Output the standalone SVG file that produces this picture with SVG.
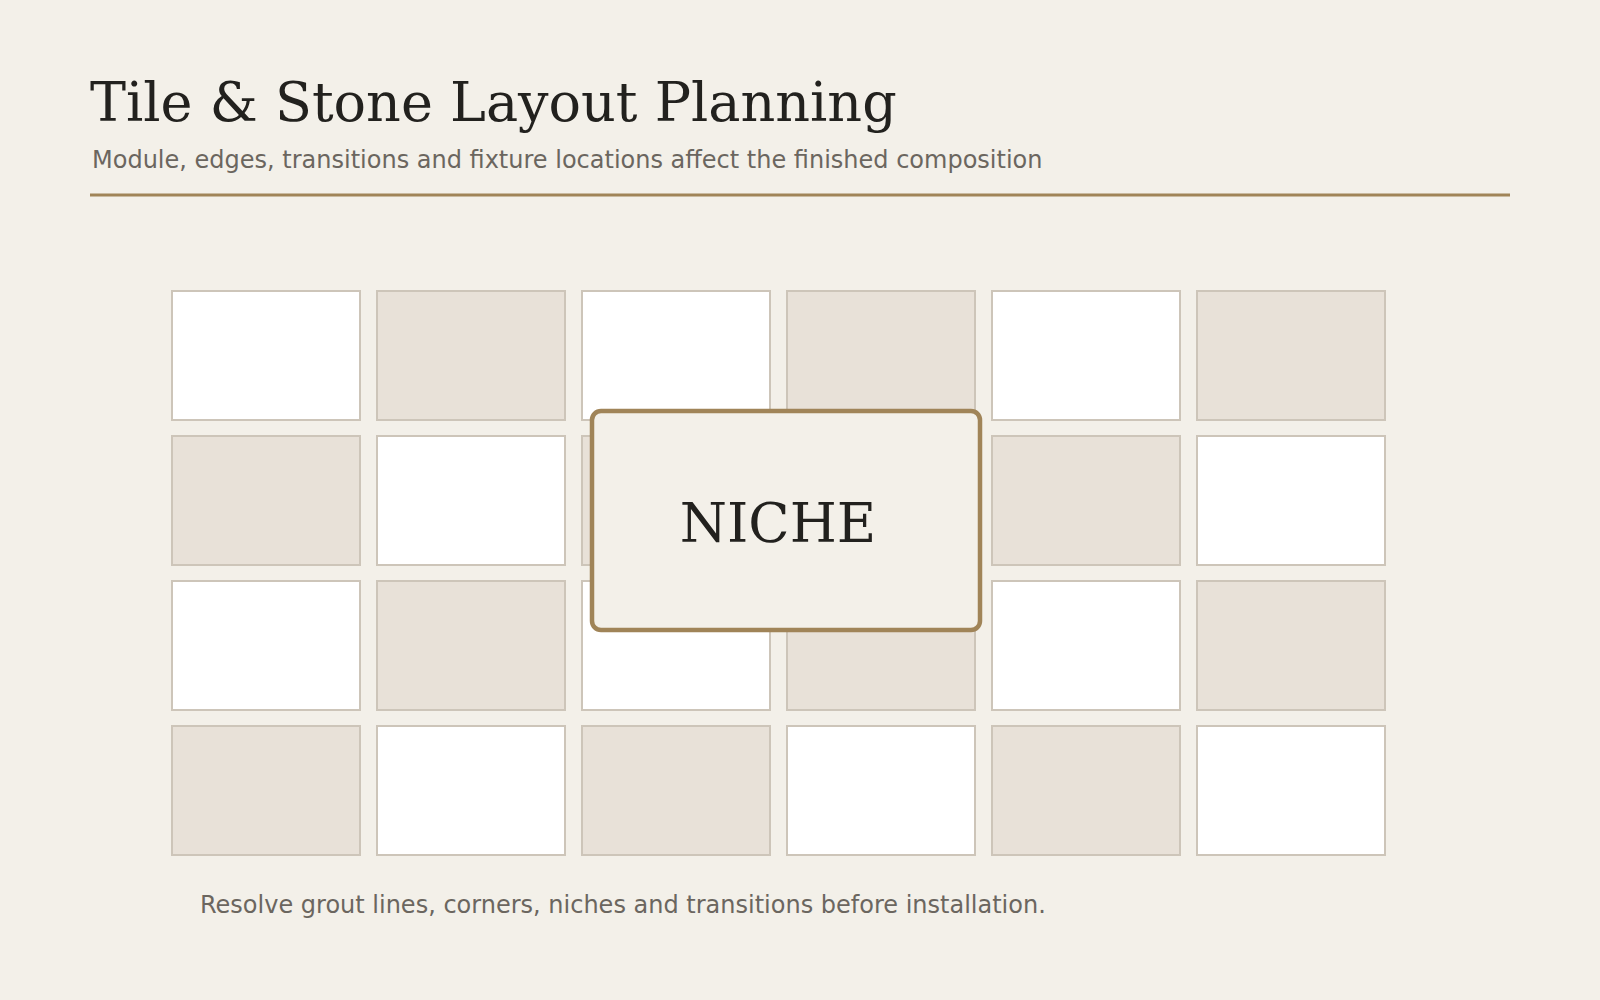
<svg xmlns="http://www.w3.org/2000/svg" width="1600" height="1000" viewBox="0 0 1600 1000">
<style>
.bg{fill:#f3f0e9}
.tile{stroke:#cdc5b9;stroke-width:2}
.w{fill:#ffffff}
.b{fill:#e8e1d8}
.title{font-family:"DejaVu Serif",serif;font-size:54px;fill:#22211e}
.sub{font-family:"DejaVu Sans",sans-serif;font-size:24px;fill:#6b665f}
.niche{fill:#f3f0e9;stroke:#a08458;stroke-width:4.5}
.nlabel{font-family:"DejaVu Serif",serif;font-size:54px;fill:#22211e;text-anchor:middle}
</style>
<rect class="bg" x="0" y="0" width="1600" height="1000"/>
<g id="header">
<text class="title" x="90" y="121">Tile &amp; Stone Layout Planning</text>
<text class="sub" x="92" y="168">Module, edges, transitions and fixture locations affect the finished composition</text>
<line x1="90" y1="195" x2="1510" y2="195" stroke="#a08458" stroke-width="3"/>
</g>
<g id="tiles">
<rect class="tile w" x="172" y="291" width="188" height="129"/>
<rect class="tile b" x="377" y="291" width="188" height="129"/>
<rect class="tile w" x="582" y="291" width="188" height="129"/>
<rect class="tile b" x="787" y="291" width="188" height="129"/>
<rect class="tile w" x="992" y="291" width="188" height="129"/>
<rect class="tile b" x="1197" y="291" width="188" height="129"/>
<rect class="tile b" x="172" y="436" width="188" height="129"/>
<rect class="tile w" x="377" y="436" width="188" height="129"/>
<rect class="tile b" x="582" y="436" width="188" height="129"/>
<rect class="tile w" x="787" y="436" width="188" height="129"/>
<rect class="tile b" x="992" y="436" width="188" height="129"/>
<rect class="tile w" x="1197" y="436" width="188" height="129"/>
<rect class="tile w" x="172" y="581" width="188" height="129"/>
<rect class="tile b" x="377" y="581" width="188" height="129"/>
<rect class="tile w" x="582" y="581" width="188" height="129"/>
<rect class="tile b" x="787" y="581" width="188" height="129"/>
<rect class="tile w" x="992" y="581" width="188" height="129"/>
<rect class="tile b" x="1197" y="581" width="188" height="129"/>
<rect class="tile b" x="172" y="726" width="188" height="129"/>
<rect class="tile w" x="377" y="726" width="188" height="129"/>
<rect class="tile b" x="582" y="726" width="188" height="129"/>
<rect class="tile w" x="787" y="726" width="188" height="129"/>
<rect class="tile b" x="992" y="726" width="188" height="129"/>
<rect class="tile w" x="1197" y="726" width="188" height="129"/>
</g>
<g id="niche">
<rect class="niche" x="592" y="411" width="388" height="219" rx="9"/>
<text class="nlabel" x="778" y="542">NICHE</text>
</g>
<g id="footer">
<text class="sub" x="200" y="913">Resolve grout lines, corners, niches and transitions before installation.</text>
</g>
<g id="connectors"/>
</svg>
